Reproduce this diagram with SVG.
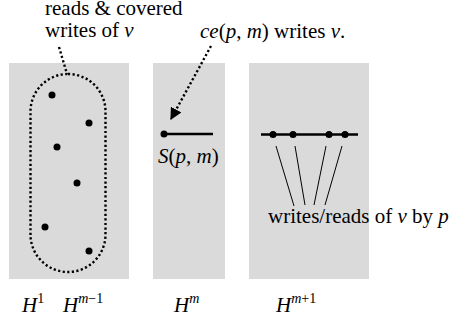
<svg xmlns="http://www.w3.org/2000/svg" width="452" height="326" viewBox="0 0 452 326">
<style>
.bg{fill:#dadada}
.t{font-family:"Liberation Serif","Times New Roman",serif;font-size:21px;fill:#000}
.i{font-style:italic}
.sup{font-size:14px}
.dot{fill:#000}
.dotted{fill:none;stroke:#000;stroke-width:2.4;stroke-dasharray:2.2 2.4}
.thick{stroke:#000;stroke-width:2.6;fill:none}
.thin{stroke:#000;stroke-width:1;fill:none}
</style>
<defs>
<marker id="ah" viewBox="0 0 10 10" refX="9" refY="5" markerWidth="5" markerHeight="5" orient="auto" markerUnits="strokeWidth">
<path d="M0,0 L10,5 L0,10 z" fill="#000"/>
</marker>
</defs>
<g id="H1">
<rect class="bg" x="9" y="63" width="120" height="216"/>
<rect class="dotted" x="30.5" y="74" width="75" height="198" rx="37.5"/>
<circle class="dot" cx="52" cy="95" r="3.5"/>
<circle class="dot" cx="89" cy="123" r="3.5"/>
<circle class="dot" cx="57" cy="147" r="3.5"/>
<circle class="dot" cx="77" cy="183" r="3.5"/>
<circle class="dot" cx="45" cy="227" r="3.5"/>
<circle class="dot" cx="89" cy="251" r="3.5"/>
</g>
<g id="Hm">
<rect class="bg" x="153" y="63" width="72" height="216"/>
<line class="thick" x1="164" y1="134" x2="213" y2="134"/>
<circle class="dot" cx="164" cy="134" r="3.5"/>
<text class="t" x="158" y="163"><tspan class="i">S</tspan>(<tspan class="i">p</tspan>, <tspan class="i">m</tspan>)</text>
</g>
<g id="Hm1">
<rect class="bg" x="249" y="63" width="120" height="216"/>
<line class="thick" x1="261" y1="134.5" x2="358" y2="134.5"/>
<circle class="dot" cx="273" cy="134.5" r="3.5"/>
<circle class="dot" cx="293" cy="134.5" r="3.5"/>
<circle class="dot" cx="329" cy="134.5" r="3.5"/>
<circle class="dot" cx="345" cy="134.5" r="3.5"/>
</g>
<g id="connectors">
<line class="dotted" x1="59" y1="47" x2="67" y2="74"/>
<line class="dotted" x1="211" y1="46" x2="171" y2="119" marker-end="url(#ah)"/>
<line class="thin" x1="276" y1="146" x2="294" y2="206"/>
<line class="thin" x1="295" y1="146" x2="305" y2="205"/>
<line class="thin" x1="326" y1="146" x2="314" y2="205"/>
<line class="thin" x1="342" y1="146" x2="325" y2="205"/>
</g>
<g id="labels">
<text class="t" x="45" y="15">reads &amp; covered</text>
<text class="t" x="45" y="37">writes of <tspan class="i">v</tspan></text>
<text class="t" x="200" y="38"><tspan class="i">ce</tspan>(<tspan class="i">p</tspan>, <tspan class="i">m</tspan>) writes <tspan class="i">v</tspan>.</text>
<text class="t" x="268" y="223">writes/reads of <tspan class="i">v</tspan> by <tspan class="i">p</tspan></text>
<text class="t" x="22" y="312"><tspan class="i">H</tspan><tspan class="sup" dy="-9">1</tspan></text>
<text class="t" x="63" y="312"><tspan class="i">H</tspan><tspan class="sup i" dy="-9">m</tspan><tspan class="sup">−1</tspan></text>
<text class="t" x="174" y="312"><tspan class="i">H</tspan><tspan class="sup i" dy="-9">m</tspan></text>
<text class="t" x="276" y="312"><tspan class="i">H</tspan><tspan class="sup i" dy="-9">m</tspan><tspan class="sup">+1</tspan></text>
</g>
</svg>
